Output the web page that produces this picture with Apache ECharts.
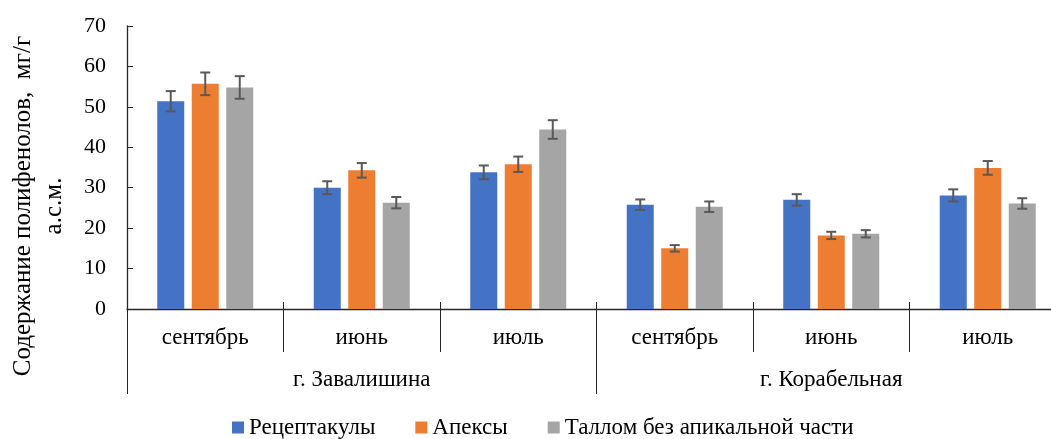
<!DOCTYPE html>
<html>
<head>
<meta charset="utf-8">
<script src="https://cdn.jsdelivr.net/npm/echarts@6/dist/echarts.min.js"></script>
<style>
  html, body { margin: 0; padding: 0; background: #fff; }
  #chart { width: 1051px; height: 439px; }
</style>
</head>
<body>
<div id="chart"></div>
<script>
const months = ['сентябрь', 'июнь', 'июль', 'сентябрь', 'июнь', 'июль'];
const sites = ['г. Завалишина', 'г. Корабельная'];
const seriesNames = ['Рецептакулы', 'Апексы', 'Таллом без апикальной части'];
const yTitle = 'Содержание полифенолов,  мг/г\nа.с.м.';

const receptacles = [51.4, 30.0, 33.8, 25.8, 27.0, 28.1];
const receptaclesErr = [2.5, 1.6, 1.7, 1.3, 1.4, 1.5];
const apexes = [55.7, 34.3, 35.8, 15.0, 18.2, 34.9];
const apexesErr = [2.8, 1.8, 1.9, 0.8, 0.9, 1.7];
const thallus = [54.8, 26.3, 44.4, 25.3, 18.6, 26.1];
const thallusErr = [2.8, 1.4, 2.3, 1.3, 0.9, 1.3];

const yTicks = { min: 0, max: 70, step: 10 };

const colors = ['#4472C4', '#ED7D31', '#A5A5A5'];
const font = '"Liberation Serif", "Times New Roman", serif';
const barWidth = 27;
const barGapPx = 7.5;

const values = [receptacles, apexes, thallus];
const errors = [receptaclesErr, apexesErr, thallusErr];

// error bars drawn over each bar, shifted by its slot in the group
function errorSeries(k) {
  const shift = (k - 1) * (barWidth + barGapPx);
  return {
    type: 'custom',
    xAxisIndex: 0,
    z: 10,
    silent: true,
    data: values[k].map((v, i) => [i, v - errors[k][i], v + errors[k][i]]),
    renderItem(params, api) {
      const lo = api.coord([api.value(0), api.value(1)]);
      const hi = api.coord([api.value(0), api.value(2)]);
      const x = lo[0] + shift;
      const half = 5;
      const style = { stroke: '#595959', lineWidth: 2 };
      return {
        type: 'group',
        children: [
          { type: 'line', shape: { x1: x, y1: hi[1], x2: x, y2: lo[1] }, style },
          { type: 'line', shape: { x1: x - half, y1: hi[1], x2: x + half, y2: hi[1] }, style },
          { type: 'line', shape: { x1: x - half, y1: lo[1], x2: x + half, y2: lo[1] }, style }
        ]
      };
    }
  };
}

const chart = echarts.init(document.getElementById('chart'));
chart.setOption({
  animation: false,
  textStyle: { fontFamily: font },
  grid: { left: 127, top: 26, bottom: 130, right: -15, containLabel: false, outerBoundsMode: 'none' },
  // y-axis title sits lower than the plot middle, so place it by hand
  graphic: [{
    type: 'text',
    x: 39,
    y: 206,
    rotation: Math.PI / 2,
    style: {
      text: yTitle,
      font: '25px ' + font,
      fill: '#000',
      align: 'center',
      verticalAlign: 'middle',
      lineHeight: 31
    }
  }],
  legend: {
    data: seriesNames,
    bottom: 0,
    left: 232,
    padding: 0,
    itemWidth: 12,
    itemHeight: 12,
    itemGap: 40,
    icon: 'rect',
    textStyle: { fontFamily: font, fontSize: 23, color: '#000' }
  },
  xAxis: [
    {
      type: 'category',
      data: months,
      position: 'bottom',
      axisLine: { show: true, lineStyle: { color: '#262626', width: 1.3 } },
      axisTick: { show: true, interval: 0, length: 43, lineStyle: { color: '#262626' } },
      axisLabel: { interval: 0, margin: 17, fontFamily: font, fontSize: 23, color: '#000' }
    },
    {
      type: 'category',
      data: sites,
      position: 'bottom',
      axisLine: { show: false },
      axisTick: { show: true, interval: 0, length: 85, lineStyle: { color: '#262626' } },
      axisLabel: { interval: 0, margin: 59, fontFamily: font, fontSize: 23, color: '#000' }
    },
    {
      type: 'category',
      data: months,
      position: 'bottom',
      axisLine: { show: false },
      axisTick: { show: true, inside: true, interval: 0, length: 7, lineStyle: { color: '#262626' } },
      axisLabel: { show: false }
    }
  ],
  yAxis: {
    type: 'value',
    min: yTicks.min,
    max: yTicks.max,
    interval: yTicks.step,
    axisLine: { show: true, lineStyle: { color: '#262626', width: 1.3 } },
    axisTick: { show: true, inside: true, length: 6, lineStyle: { color: '#262626' } },
    axisLabel: { margin: 21, fontFamily: font, fontSize: 22, color: '#000' },
    splitLine: { show: false }
  },
  series: [
    ...seriesNames.map((name, k) => ({
      name,
      type: 'bar',
      xAxisIndex: 0,
      data: values[k],
      barWidth: barWidth,
      barGap: (barGapPx / barWidth * 100) + '%',
      itemStyle: { color: colors[k] }
    })),
    errorSeries(0),
    errorSeries(1),
    errorSeries(2)
  ]
});
</script>
</body>
</html>
